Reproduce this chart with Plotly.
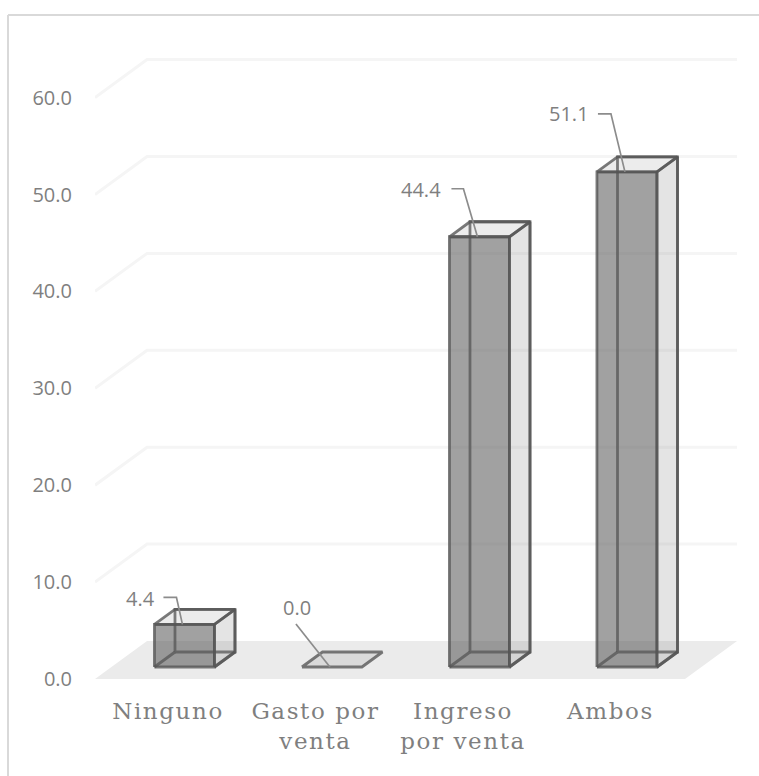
import plotly.graph_objects as go

categories = ["Ninguno", "Gasto por<br>venta", "Ingreso<br>por venta", "Ambos"]
values = [4.4, 0.0, 44.4, 51.1]
value_labels = ["4.4", "0.0", "44.4", "51.1"]
y_ticks = [0, 10, 20, 30, 40, 50, 60]
y_tick_labels = ["0.0", "10.0", "20.0", "30.0", "40.0", "50.0", "60.0"]

W, H = 759, 776
PL, PR, PT, PB = 95, 745, 40, 679      # plot area in page pixels
PX_Y = 9.69                            # pixels per value unit
PX_X = 147.5                           # pixels per category
X0_PX = 168                            # pixel of category 0 on the front plane
SLANT = 1.37 * PX_Y / PX_X             # x shift (categories) per depth unit (value units)
FLOOR_DEPTH = 38 / PX_Y
BAR_NEAR = 12 / PX_Y
BAR_FAR = 27 / PX_Y
HALF = 30 / PX_X
X_RANGE = [(PL - X0_PX) / PX_X, (PR - X0_PX) / PX_X]
Y_RANGE = [0, (PB - PT) / PX_Y]

# label box centre and leader bend, pixel offsets from the bar's top-front centre
LABEL_DX = [-44, -35, -58, -58]
LABEL_DY = [26, 60, 47, 58]
LEADER_START_DX = [-21, -36, -28, -29]
LEADER_BEND_DX = [-8, -36, -16, -16]
LEADER_BEND_DY = [27, 43, 48, 58]

FRONT = "rgba(89,89,89,0.57)"
SIDE = "rgba(120,120,120,0.20)"
TOP = "rgba(120,120,120,0.14)"
EDGE = "rgba(85,85,85,0.78)"
EDGE_W = 2.8
TEXT = "#7f7f7f"

fig = go.Figure()


def poly(xs, ys, fill=None, line=None, width=0, mode="lines"):
    fig.add_trace(go.Scatter(
        x=xs, y=ys, mode=mode, hoverinfo="skip", showlegend=False,
        fill="toself" if fill else None, fillcolor=fill,
        line=dict(color=line or "rgba(0,0,0,0)", width=width),
    ))


def pt(xc, v, d):
    return xc + d * SLANT, v + d


# floor
xl, xr = X_RANGE[0], (685 - X0_PX) / PX_X
corners = [pt(xl, 0, 0), pt(xr, 0, 0), pt(xr, 0, FLOOR_DEPTH), pt(xl, 0, FLOOR_DEPTH), pt(xl, 0, 0)]
poly([c[0] for c in corners], [c[1] for c in corners], fill="#ebebeb")

# gridlines along side wall and back wall (no line at the floor level)
for t in y_ticks[1:]:
    a, b, c = pt(xl, t, 0), pt(xl, t, FLOOR_DEPTH), pt(xr, t, FLOOR_DEPTH)
    poly([a[0], b[0], c[0]], [a[1], b[1], c[1]], line="#f5f5f5", width=3)

# boxes
for i, v in enumerate(values):
    L, R = i - HALF, i + HALF
    fb = lambda x, val: pt(x, val, BAR_NEAR)
    bk = lambda x, val: pt(x, val, BAR_FAR)
    if v > 0:
        # back edges first so that the front face veils them
        path = [bk(L, 0), bk(R, 0), bk(R, v), bk(L, v), bk(L, 0)]
        poly([p[0] for p in path], [p[1] for p in path], line=EDGE, width=EDGE_W)
        # bottom edges
        for x in (L, R):
            poly([fb(x, 0)[0], bk(x, 0)[0]], [fb(x, 0)[1], bk(x, 0)[1]], line=EDGE, width=EDGE_W)
        # right side
        path = [fb(R, 0), bk(R, 0), bk(R, v), fb(R, v), fb(R, 0)]
        poly([p[0] for p in path], [p[1] for p in path], fill=SIDE, line=EDGE, width=EDGE_W)
        # front
        path = [fb(L, 0), fb(R, 0), fb(R, v), fb(L, v), fb(L, 0)]
        poly([p[0] for p in path], [p[1] for p in path], fill=FRONT, line=EDGE, width=EDGE_W)
    # top
    path = [fb(L, v), fb(R, v), bk(R, v), bk(L, v), fb(L, v)]
    poly([p[0] for p in path], [p[1] for p in path], fill=TOP, line=EDGE, width=EDGE_W)

    # leader line and label
    ax, ay = fb(i, v)
    if i == 1:
        poly([ax + LEADER_BEND_DX[i] / PX_X, ax - 2 / PX_X],
             [ay + LEADER_BEND_DY[i] / PX_Y, ay], line="#8c8c8c", width=1.7)
    else:
        poly([ax + LEADER_START_DX[i] / PX_X, ax + LEADER_BEND_DX[i] / PX_X, ax - 2 / PX_X],
             [ay + LEADER_BEND_DY[i] / PX_Y, ay + LEADER_BEND_DY[i] / PX_Y, ay],
             line="#8c8c8c", width=1.7)
    fig.add_annotation(
        x=ax, y=ay, xref="x", yref="y", text=value_labels[i], showarrow=False,
        xshift=LABEL_DX[i], yshift=LABEL_DY[i],
        font=dict(family="Open Sans", size=20, color=TEXT),
    )


def tick_text(s):
    return "<br>".join(
        f'<span style="font-size:23px;letter-spacing:1.6px">{part}</span>' for part in s.split("<br>")
    )


fig.update_layout(
    width=W, height=H, autosize=False,
    margin=dict(l=PL, r=W - PR, t=PT, b=H - PB, pad=0),
    paper_bgcolor="white", plot_bgcolor="rgba(0,0,0,0)",
    showlegend=False,
    xaxis=dict(
        range=X_RANGE, tickmode="array", tickvals=list(range(len(categories))),
        ticktext=[tick_text(c) for c in categories], tickangle=0,
        showgrid=False, zeroline=False, showline=False,
        ticks="outside", ticklen=11, tickcolor="rgba(0,0,0,0)",
        tickfont=dict(family="DejaVu Serif", size=23, color=TEXT),
    ),
    yaxis=dict(
        range=Y_RANGE, tickmode="array", tickvals=y_ticks, ticktext=y_tick_labels,
        showgrid=False, zeroline=False, showline=False,
        ticks="outside", ticklen=18, tickcolor="rgba(0,0,0,0)",
        tickfont=dict(family="Open Sans", size=20, color=TEXT),
    ),
    shapes=[
        dict(type="line", xref="paper", yref="paper", x0=(8 - PL) / (PR - PL), x1=(8 - PL) / (PR - PL),
             y0=(PB - 15) / (PB - PT), y1=(PB - 776) / (PB - PT), line=dict(color="#d9d9d9", width=2)),
        dict(type="line", xref="paper", yref="paper", x0=(8 - PL) / (PR - PL), x1=(759 - PL) / (PR - PL),
             y0=(PB - 15) / (PB - PT), y1=(PB - 15) / (PB - PT), line=dict(color="#d9d9d9", width=2)),
    ],
)

fig.write_html("out.html", config={"displayModeBar": False},
               post_script="document.body.style.margin='0';document.body.style.overflow='hidden';")
